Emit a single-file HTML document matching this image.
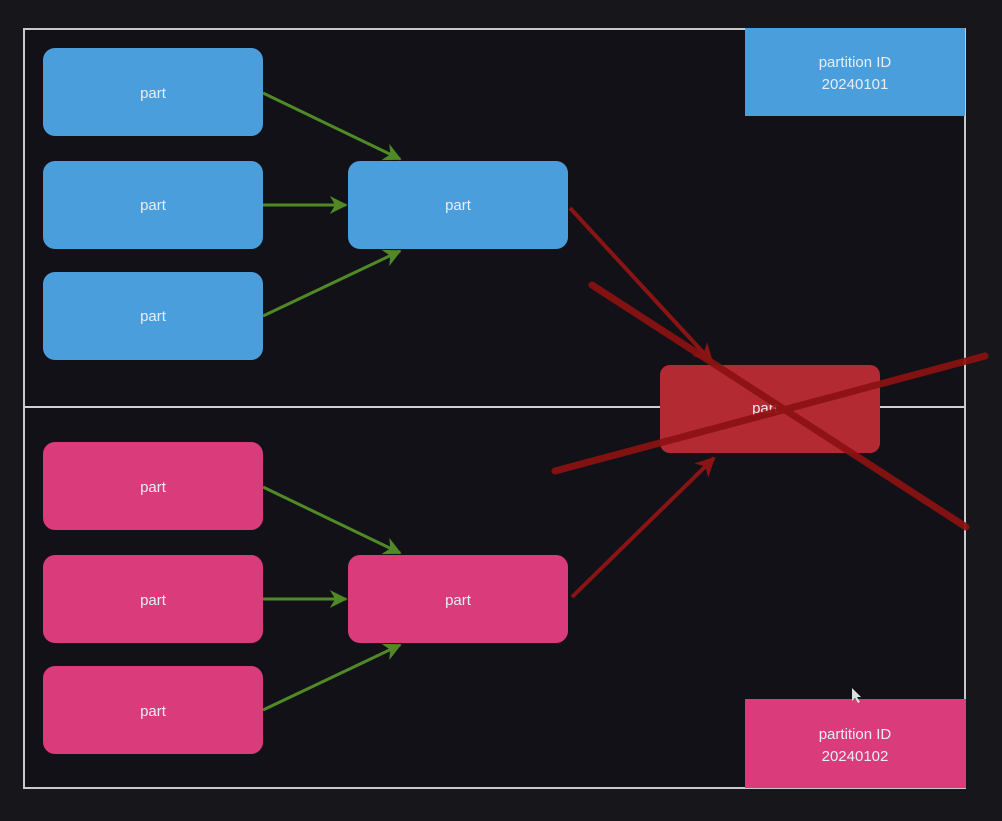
<!DOCTYPE html>
<html><head><meta charset="utf-8"><style>
html,body{margin:0;padding:0;background:#17161b;}
svg{display:block}
text{font-family:"Liberation Sans",sans-serif;fill:#e6eef8;font-size:15px;text-anchor:middle}
</style></head><body>
<svg width="1002" height="821" viewBox="0 0 1002 821" xmlns="http://www.w3.org/2000/svg">
<defs>
<marker id="g" viewBox="0 0 10 10" refX="9" refY="5" markerWidth="6" markerHeight="6" orient="auto"><path d="M0,0 L10,5 L0,10 L3,5 Z" fill="#4f8a25"/></marker>
<marker id="r" viewBox="0 0 10 10" refX="9" refY="5" markerWidth="5" markerHeight="5" orient="auto"><path d="M0,0 L10,5 L0,10 L3,5 Z" fill="#8a1414"/></marker>
</defs>
<rect x="0" y="0" width="1002" height="821" fill="#17161b"/>
<rect x="24" y="29" width="941" height="759" fill="#121118" stroke="#c9c9cc" stroke-width="2"/>
<line x1="24" y1="407" x2="965" y2="407" stroke="#d0d0d4" stroke-width="2"/>

<g fill="#4a9edb">
<rect x="43" y="48" width="220" height="88" rx="12"/>
<rect x="43" y="161" width="220" height="88" rx="12"/>
<rect x="43" y="272" width="220" height="88" rx="12"/>
<rect x="348" y="161" width="220" height="88" rx="12"/>
<rect x="745" y="28" width="220" height="88"/>
</g>
<g fill="#da3b7a">
<rect x="43" y="442" width="220" height="88" rx="12"/>
<rect x="43" y="555" width="220" height="88" rx="12"/>
<rect x="43" y="666" width="220" height="88" rx="12"/>
<rect x="348" y="555" width="220" height="88" rx="12"/>
<rect x="745" y="699" width="221" height="89"/>
</g>
<rect x="660" y="365" width="220" height="88" rx="10" fill="#b32a32"/>

<g stroke="#4f8a25" stroke-width="3" fill="none">
<line x1="263" y1="93" x2="400" y2="159" marker-end="url(#g)"/>
<line x1="263" y1="205" x2="346" y2="205" marker-end="url(#g)"/>
<line x1="263" y1="316" x2="400" y2="251" marker-end="url(#g)"/>
<line x1="263" y1="487" x2="400" y2="553" marker-end="url(#g)"/>
<line x1="263" y1="599" x2="346" y2="599" marker-end="url(#g)"/>
<line x1="263" y1="710" x2="400" y2="645" marker-end="url(#g)"/>
</g>
<text x="765" y="413">part</text>
<g stroke="#8a1414" stroke-width="4" fill="none">
<line x1="570" y1="208" x2="712" y2="362" marker-end="url(#r)"/>
<line x1="572" y1="597" x2="714" y2="458" marker-end="url(#r)"/>
</g>
<g stroke="#8c1212" stroke-width="7" stroke-linecap="round" opacity="0.92">
<line x1="592" y1="285" x2="966" y2="527"/>
<line x1="555" y1="471" x2="985" y2="356"/>
</g>

<text x="153" y="98">part</text>
<text x="153" y="210">part</text>
<text x="153" y="321">part</text>
<text x="458" y="210">part</text>
<text x="153" y="492">part</text>
<text x="153" y="605">part</text>
<text x="153" y="716">part</text>
<text x="458" y="605">part</text>
<text x="855" y="67">partition ID</text>
<text x="855" y="89">20240101</text>
<text x="855" y="739">partition ID</text>
<text x="855" y="761">20240102</text>
<path d="M852,688 l0,13 l3,-3 l3,5 l2,-1 l-3,-5 l4,0 Z" fill="#ddd"/>
</svg>
</body></html>
